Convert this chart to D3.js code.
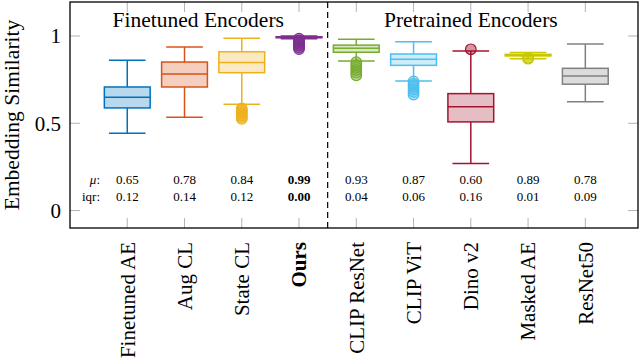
<!DOCTYPE html>
<html>
<head>
<meta charset="utf-8">
<script src="https://cdn.jsdelivr.net/npm/d3@7"></script>
<style>
  body { margin: 0; background: #fff; }
  text { font-family: "Liberation Serif", "Times New Roman", serif; }
</style>
</head>
<body>
<svg id="chart" width="640" height="361"></svg>
<script>
const categories = ["Finetuned AE", "Aug CL", "State CL", "Ours", "CLIP ResNet", "CLIP ViT", "Dino v2", "Masked AE", "ResNet50"];
const colors = ["#0072BD", "#D95319", "#EDB120", "#7E2F8E", "#77AC30", "#4DBEEE", "#A2142F", "#C8C800", "#808080"];

const whiskerLow = [0.443, 0.535, 0.609, 0.985, 0.857, 0.742, 0.269, 0.870, 0.624];
const q1 = [0.588, 0.708, 0.790, 0.990, 0.907, 0.832, 0.508, 0.886, 0.724];
const median = [0.649, 0.782, 0.849, 0.993, 0.930, 0.867, 0.595, 0.890, 0.771];
const q3 = [0.708, 0.851, 0.910, 0.996, 0.948, 0.897, 0.670, 0.895, 0.815];
const whiskerHigh = [0.861, 0.937, 0.987, 1.000, 0.981, 0.967, 0.914, 0.905, 0.954];

const outliers = [
  [],
  [],
  [0.585, 0.575, 0.565, 0.555, 0.545, 0.535, 0.525],
  [0.985, 0.975, 0.965, 0.955, 0.945, 0.935, 0.925],
  [0.850, 0.835, 0.820, 0.805, 0.790, 0.775],
  [0.740, 0.725, 0.710, 0.695, 0.680, 0.665],
  [0.924],
  [0.875, 0.870],
  []
];

const meanLabels = ["0.65", "0.78", "0.84", "0.99", "0.93", "0.87", "0.60", "0.89", "0.78"];
const iqrLabels = ["0.12", "0.14", "0.12", "0.00", "0.04", "0.06", "0.16", "0.01", "0.09"];
const boldIndex = 3;

const groups = [
  { name: "Finetuned Encoders", pos: 2.24 },
  { name: "Pretrained Encoders", pos: 7.0 }
];
const yTicks = [0, 0.5, 1];

const svg = d3.select("#chart");
const frame = { left: 70, right: 638, top: 2, bottom: 228 };

const x = d3.scaleLinear().domain([0, 9.92]).range([frame.left, frame.right]);
const y = d3.scaleLinear().domain([-0.1, 1.195]).range([frame.bottom, frame.top]);

const boxW = x(0.8) - x(0);
const capW = x(0.64) - x(0);
const tickLen = 10;

// ticks (grey, inside on all sides)
const ticks = svg.append("g").attr("stroke", "#b3b3b3").attr("stroke-width", 1);
yTicks.forEach(v => {
  ticks.append("line").attr("x1", frame.left).attr("x2", frame.left + tickLen).attr("y1", y(v)).attr("y2", y(v));
  ticks.append("line").attr("x1", frame.right).attr("x2", frame.right - tickLen).attr("y1", y(v)).attr("y2", y(v));
});
categories.forEach((c, i) => {
  ticks.append("line").attr("x1", x(i + 1)).attr("x2", x(i + 1)).attr("y1", frame.top).attr("y2", frame.top + tickLen);
  ticks.append("line").attr("x1", x(i + 1)).attr("x2", x(i + 1)).attr("y1", frame.bottom).attr("y2", frame.bottom - tickLen);
});

// boxes
categories.forEach((c, i) => {
  const cx = x(i + 1);
  const col = colors[i];
  const g = svg.append("g").attr("stroke", col).attr("stroke-width", 1.5).attr("fill", "none");

  g.append("line").attr("x1", cx).attr("x2", cx).attr("y1", y(whiskerLow[i])).attr("y2", y(q1[i]));
  g.append("line").attr("x1", cx).attr("x2", cx).attr("y1", y(q3[i])).attr("y2", y(whiskerHigh[i]));
  g.append("line").attr("x1", cx - capW / 2).attr("x2", cx + capW / 2).attr("y1", y(whiskerLow[i])).attr("y2", y(whiskerLow[i]));
  g.append("line").attr("x1", cx - capW / 2).attr("x2", cx + capW / 2).attr("y1", y(whiskerHigh[i])).attr("y2", y(whiskerHigh[i]));

  g.append("rect")
    .attr("x", cx - boxW / 2)
    .attr("y", y(q3[i]))
    .attr("width", boxW)
    .attr("height", Math.max(0.5, y(q1[i]) - y(q3[i])))
    .attr("fill", col)
    .attr("fill-opacity", 0.28);

  g.append("line").attr("x1", cx - boxW / 2).attr("x2", cx + boxW / 2).attr("y1", y(median[i])).attr("y2", y(median[i]));

  g.selectAll("circle")
    .data(outliers[i])
    .enter()
    .append("circle")
    .attr("cx", cx)
    .attr("cy", d => y(d))
    .attr("r", 5.3)
    .attr("fill", col)
    .attr("fill-opacity", 0.45)
    .attr("stroke-width", 1.2);
});

// group separator
svg.append("line")
  .attr("x1", x(4.5)).attr("x2", x(4.5))
  .attr("y1", frame.top).attr("y2", frame.bottom)
  .attr("stroke", "#000")
  .attr("stroke-width", 1.2)
  .attr("stroke-dasharray", "6,4");

// frame
svg.append("rect")
  .attr("x", frame.left).attr("y", frame.top)
  .attr("width", frame.right - frame.left).attr("height", frame.bottom - frame.top)
  .attr("fill", "none")
  .attr("stroke", "#000")
  .attr("stroke-width", 1.3);

// group titles
svg.selectAll(".group")
  .data(groups)
  .enter()
  .append("text")
  .attr("class", "group")
  .attr("x", d => x(d.pos))
  .attr("y", 26.5)
  .attr("text-anchor", "middle")
  .style("font-size", "21.5px")
  .text(d => d.name);

// mean / iqr rows
const rowMu = 184, rowIqr = 200.5;
svg.append("text").attr("x", 100).attr("y", rowMu).attr("text-anchor", "end")
  .style("font-size", "13px")
  .call(t => {
    t.append("tspan").style("font-style", "italic").text("μ");
    t.append("tspan").text(":");
  });
svg.append("text").attr("x", 100).attr("y", rowIqr).attr("text-anchor", "end")
  .style("font-size", "13px").text("iqr:");

categories.forEach((c, i) => {
  svg.append("text").attr("x", x(i + 1)).attr("y", rowMu).attr("text-anchor", "middle")
    .style("font-size", "13px")
    .style("font-weight", i === boldIndex ? "bold" : "normal")
    .text(meanLabels[i]);
  svg.append("text").attr("x", x(i + 1)).attr("y", rowIqr).attr("text-anchor", "middle")
    .style("font-size", "13px")
    .style("font-weight", i === boldIndex ? "bold" : "normal")
    .text(iqrLabels[i]);
});

// y tick labels
yTicks.forEach(v => {
  svg.append("text")
    .attr("x", 61)
    .attr("y", y(v))
    .attr("dy", "0.35em")
    .attr("text-anchor", "end")
    .style("font-size", "21px")
    .text(v === 0.5 ? "0.5" : v);
});

// y axis label
svg.append("text")
  .attr("transform", `translate(19,${(frame.top + frame.bottom) / 2}) rotate(-90)`)
  .attr("text-anchor", "middle")
  .style("font-size", "21.5px")
  .text("Embedding Similarity");

// category labels
categories.forEach((c, i) => {
  svg.append("text")
    .attr("transform", `translate(${x(i + 1)},242) rotate(-90)`)
    .attr("dy", "0.35em")
    .attr("text-anchor", "end")
    .style("font-size", "21px")
    .style("font-weight", i === boldIndex ? "bold" : "normal")
    .text(c);
});
</script>
</body>
</html>
